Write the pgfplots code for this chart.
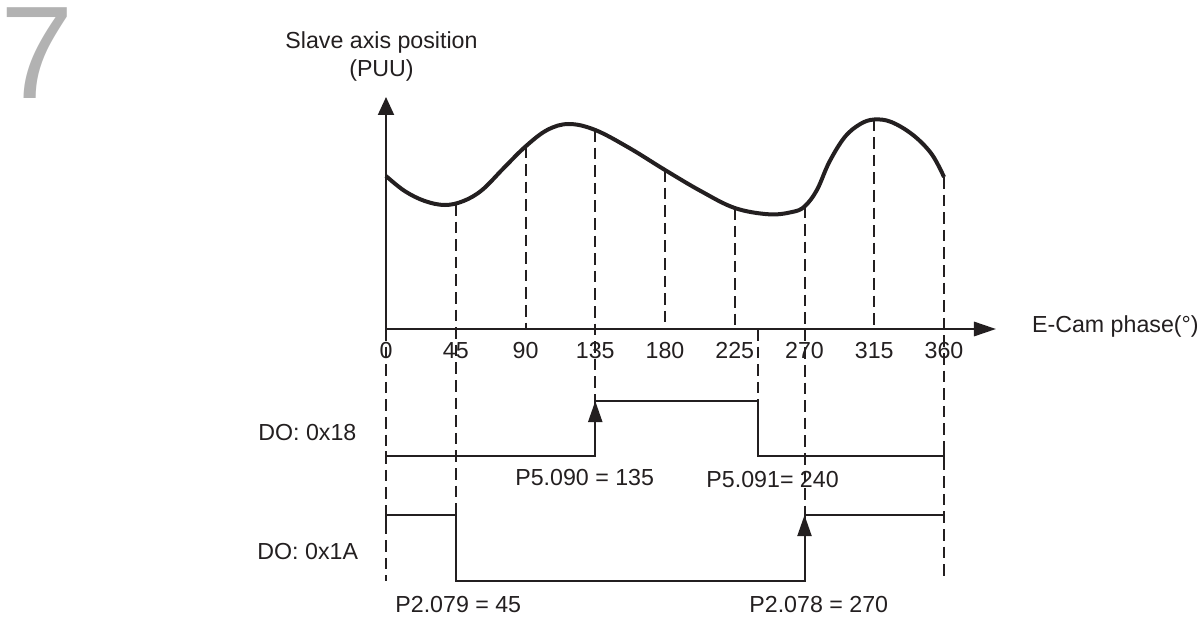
\documentclass[border=0pt]{standalone}
\usepackage{pgfplots}
\pgfplotsset{compat=1.18}
\usepackage{fontspec}
\setmainfont{Liberation Sans}
\usetikzlibrary{arrows.meta}
\definecolor{ink}{RGB}{35,31,32}
\definecolor{pagegray}{RGB}{178,178,178}
\newcommand\lbl{\fontsize{11.6pt}{14pt}\selectfont}
\tikzset{
  dsh/.style={ink, line width=1pt, dash pattern=on 5.8pt off 3pt},
  stp/.style={ink, line width=1pt, line join=miter},
  txt/.style={inner sep=0pt, text=ink, font=\lbl}}
\begin{document}
\begin{tikzpicture}
\begin{axis}[name=a, width=600.5pt, height=308.5pt, scale only axis,
  xmin=-249.032, xmax=525.806, ymin=-617, ymax=0,
  axis lines=none, clip=false]
% page number
\node[inner sep=0pt, text=pagegray, font=\fontsize{66pt}{70pt}\selectfont] at (axis cs:-224.8,-53.5) {7};
% axes
\addplot[ink, line width=1pt, -{Triangle[length=9pt,width=8pt]}] coordinates {(0,-329) (0,-97)};
\addplot[ink, line width=1pt, -{Triangle[length=11pt,width=7.2pt]}] coordinates {(0,-329) (393.5,-329)};
% cam curve
\addplot[ink, line width=2pt, smooth, tension=0.6] coordinates {
(0,-176) (12,-191) (25,-201) (38,-205) (50,-201) (62,-190) (76,-168)
(90,-146.5) (104,-130) (118,-124) (135,-130) (157,-148) (180,-170)
(203,-191) (225,-208) (247,-214.3) (262,-212) (270,-206.5) (278,-190)
(286,-162) (296,-137) (306,-124) (315,-119.5) (326,-122) (340,-135)
(352,-154) (360,-177)};
% dashed guide lines
\addplot[dsh] coordinates {(0,-329) (0,-581)};
\addplot[dsh] coordinates {(45,-204) (45,-515)};
\addplot[dsh] coordinates {(90,-146.5) (90,-329)};
\addplot[dsh] coordinates {(135,-130) (135,-401)};
\addplot[dsh] coordinates {(180,-170) (180,-329)};
\addplot[dsh] coordinates {(225,-208) (225,-329)};
\addplot[dsh] coordinates {(240,-329) (240,-401)};
\addplot[dsh] coordinates {(270,-206.5) (270,-515)};
\addplot[dsh] coordinates {(315,-119.5) (315,-329)};
\addplot[dsh] coordinates {(360,-177) (360,-581)};
% DO 0x18
\addplot[stp] coordinates {(0,-456) (135,-456) (135,-401) (240,-401) (240,-456) (360,-456)};
\addplot[stp] coordinates {(0,-451) (0,-461)};
\addplot[stp] coordinates {(360,-451) (360,-461)};
\addplot[ink, line width=1pt, -{Triangle[length=10.5pt,width=7pt]}] coordinates {(135,-440) (135,-401)};
% DO 0x1A
\addplot[stp] coordinates {(0,-515) (45,-515) (45,-581) (270,-581) (270,-515) (360,-515)};
\addplot[stp] coordinates {(0,-515) (0,-523)};
\addplot[stp] coordinates {(360,-515) (360,-523)};
\addplot[ink, line width=1pt, -{Triangle[length=10.5pt,width=7pt]}] coordinates {(270,-555) (270,-515)};
% labels
\node[txt] at (axis cs:-2.9,-43) {Slave axis position};
\node[txt] at (axis cs:-2.9,-70) {(PUU)};
\node[txt, anchor=west] at (axis cs:416.6,-326) {E-Cam phase(°)};
\node[txt] at (axis cs:0,-351) {0};
\node[txt] at (axis cs:45,-351) {45};
\node[txt] at (axis cs:90,-351) {90};
\node[txt] at (axis cs:135,-351) {135};
\node[txt] at (axis cs:180,-351) {180};
\node[txt] at (axis cs:225,-351) {225};
\node[txt] at (axis cs:270,-351) {270};
\node[txt] at (axis cs:315,-351) {315};
\node[txt] at (axis cs:360,-351) {360};
\node[txt, anchor=west] at (axis cs:-82.6,-433) {DO: 0x18};
\node[txt, anchor=west] at (axis cs:-83.2,-552) {DO: 0x1A};
\node[txt, anchor=west] at (axis cs:83.2,-478) {P5.090 = 135};
\node[txt, anchor=west] at (axis cs:206.5,-480) {P5.091= 240};
\node[txt, anchor=west] at (axis cs:5.8,-605) {P2.079 = 45};
\node[txt, anchor=west] at (axis cs:234.2,-605) {P2.078 = 270};
\end{axis}
\pgfresetboundingbox
\path (a.south west) rectangle (a.north east);
\end{tikzpicture}
\end{document}
